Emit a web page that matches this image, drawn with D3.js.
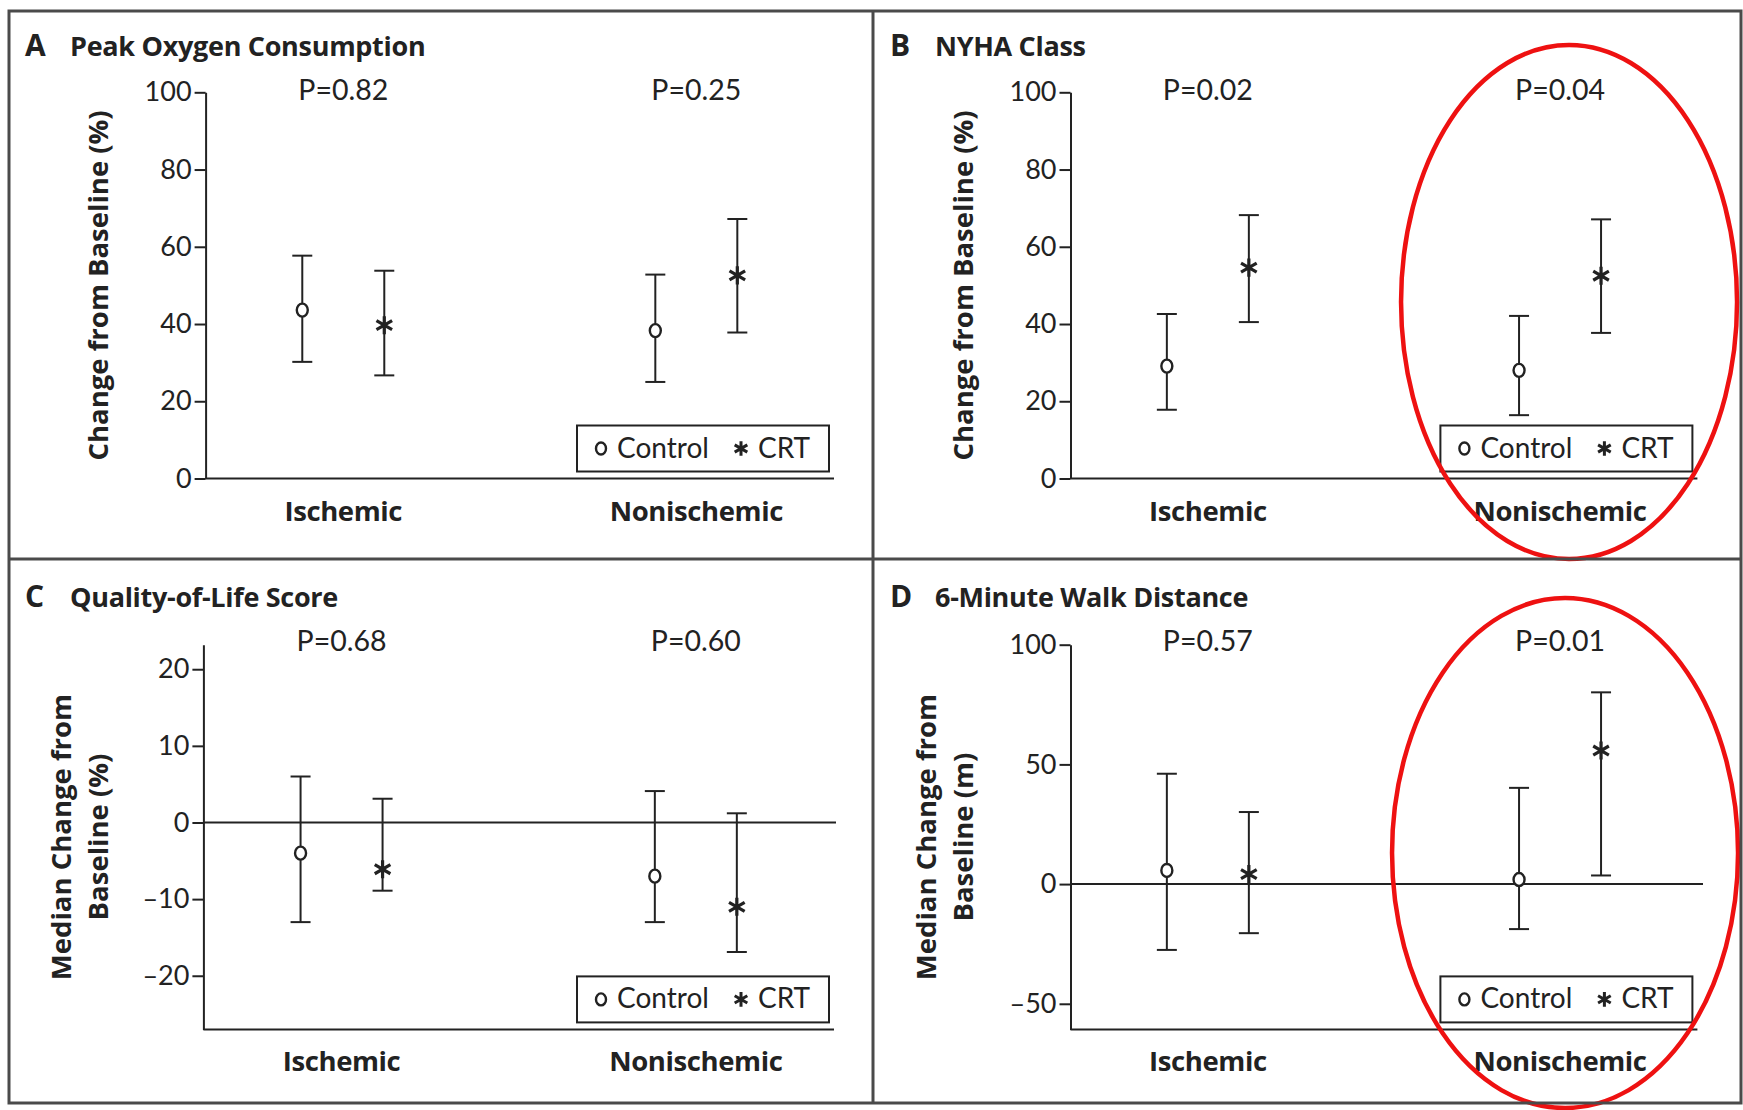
<!DOCTYPE html>
<html lang="en">
<head>
    <meta charset="UTF-8">
    <title>CRT outcomes by etiology</title>
    <script src="https://d3js.org/d3.v7.min.js"></script>
    <style>
        body { margin: 0; background: #fff; }
        svg { display: block; }
        .tick text { font-family: Lato, sans-serif; font-size: 27px; fill: #222; }
        .tick line, .domain { stroke: #222; stroke-width: 2; }
    </style>
</head>
<body>
<div id="chart"></div>
<script>
    // values: [category, group, median, low, high]
    const categories = ["Ischemic", "Nonischemic"];
    const groups = ["Control", "CRT"];

    const peakOxygen = [
        ["Ischemic", "Control", 43.6, 30.2, 57.7],
        ["Ischemic", "CRT", 39.7, 26.7, 53.8],
        ["Nonischemic", "Control", 38.3, 25.0, 52.8],
        ["Nonischemic", "CRT", 52.6, 37.8, 67.2]
    ];
    const nyhaClass = [
        ["Ischemic", "Control", 29.1, 17.8, 42.6],
        ["Ischemic", "CRT", 54.6, 40.5, 68.2],
        ["Nonischemic", "Control", 28.0, 16.4, 42.1],
        ["Nonischemic", "CRT", 52.5, 37.7, 67.1]
    ];
    const qualityOfLife = [
        ["Ischemic", "Control", -4.0, -13.0, 6.0],
        ["Ischemic", "CRT", -6.1, -8.9, 3.1],
        ["Nonischemic", "Control", -7.0, -13.0, 4.1],
        ["Nonischemic", "CRT", -11.0, -16.9, 1.2]
    ];
    const walkDistance = [
        ["Ischemic", "Control", 5.7, -27.5, 46.1],
        ["Ischemic", "CRT", 4.2, -20.5, 30.1],
        ["Nonischemic", "Control", 1.9, -18.8, 40.2],
        ["Nonischemic", "CRT", 55.8, 3.6, 80.1]
    ];

    const peakOxygenP = ["P=0.82", "P=0.25"];
    const nyhaP = ["P=0.02", "P=0.04"];
    const qualityP = ["P=0.68", "P=0.60"];
    const walkP = ["P=0.57", "P=0.01"];

    const percentTicks = [0, 20, 40, 60, 80, 100];
    const qualityTicks = [-20, -10, 0, 10, 20];
    const walkTicks = [-50, 0, 50, 100];

    // layout of the four panels (pixels)
    const panels = [
        { letter: "A", title: "Peak Oxygen Consumption", data: peakOxygen, p: peakOxygenP,
          ticks: percentTicks, domain: [0, 100], ylabel: ["Change from Baseline (%)"],
          ox: 0, oy: 0, x0: 205.6, x1: 834, yTop: 92.3, yBot: 478.5, zeroEnd: 834, ring: null },
        { letter: "B", title: "NYHA Class", data: nyhaClass, p: nyhaP,
          ticks: percentTicks, domain: [0, 100], ylabel: ["Change from Baseline (%)"],
          ox: 865, oy: 0, x0: 1070.5, x1: 1697.4, yTop: 92.3, yBot: 478.5, zeroEnd: 1697.4,
          ring: { dx: 9, cy: 302, rx: 168, ry: 257 } },
        { letter: "C", title: "Quality-of-Life Score", data: qualityOfLife, p: qualityP,
          ticks: qualityTicks, domain: [-27, 23.2], ylabel: ["Median Change from", "Baseline (%)"],
          ox: 0, oy: 551, x0: 203.4, x1: 834, yTop: 644.7, yBot: 1029.4, zeroEnd: 836, ring: null },
        { letter: "D", title: "6-Minute Walk Distance", data: walkDistance, p: walkP,
          ticks: walkTicks, domain: [-60.7, 100], ylabel: ["Median Change from", "Baseline (m)"],
          ox: 865, oy: 551, x0: 1070.5, x1: 1697.4, yTop: 644.7, yBot: 1029.4, zeroEnd: 1703,
          ring: { dx: 5, cy: 853, rx: 173, ry: 255 } }
    ];

    const ink = "#222";
    const svg = d3.select("#chart").append("svg")
        .attr("width", 1743)
        .attr("height", 1110);

    svg.append("rect").attr("width", 1743).attr("height", 1110).attr("fill", "#fff");

    const offset = d3.scalePoint().domain(groups).range([-41, 41]);

    panels.forEach(function(pn) {
        const g = svg.append("g");

        const x = d3.scalePoint()
            .domain(categories)
            .range([pn.x0, pn.x1])
            .padding(0.39);
        const y = d3.scaleLinear()
            .domain(pn.domain)
            .range([pn.yBot, pn.yTop]);

        // y axis
        g.append("g")
         .attr("transform", `translate(${pn.x0},0)`)
         .call(d3.axisLeft(y).tickValues(pn.ticks).tickSize(11).tickSizeOuter(0).tickPadding(3)
               .tickFormat(d => d < 0 ? "\u2013" + Math.abs(d) : d));

        // baseline at bottom + zero line
        g.append("line")
         .attr("x1", pn.x0).attr("x2", pn.x1)
         .attr("y1", pn.yBot).attr("y2", pn.yBot)
         .attr("stroke", ink).attr("stroke-width", 2);
        if (pn.domain[0] < 0) {
            g.append("line")
             .attr("x1", pn.x0).attr("x2", pn.zeroEnd)
             .attr("y1", y(0)).attr("y2", y(0))
             .attr("stroke", ink).attr("stroke-width", 2);
        }

        // titles
        g.append("text")
         .attr("x", pn.ox + 25).attr("y", pn.oy + 56)
         .attr("font-family", "Open Sans, sans-serif").attr("font-weight", 700)
         .attr("font-size", 30).attr("fill", ink)
         .text(pn.letter);
        g.append("text")
         .attr("x", pn.ox + 70).attr("y", pn.oy + 56)
         .attr("font-family", "Open Sans, sans-serif").attr("font-weight", 700)
         .attr("font-size", 27).attr("letter-spacing", -0.3).attr("fill", ink)
         .text(pn.title);

        // y label
        const yMid = (pn.yTop + pn.yBot) / 2;
        const lx = pn.ylabel.length === 1 ? [98] : [61, 98];
        pn.ylabel.forEach(function(line, i) {
            g.append("text")
             .attr("transform", `translate(${pn.ox + lx[i] + 10},${yMid}) rotate(-90)`)
             .attr("text-anchor", "middle")
             .attr("font-family", "Open Sans, sans-serif").attr("font-weight", 700)
             .attr("font-size", 27.5).attr("fill", ink)
             .text(line);
        });

        // category labels and P values
        categories.forEach(function(c, i) {
            g.append("text")
             .attr("x", x(c)).attr("y", pn.yBot + 42)
             .attr("text-anchor", "middle")
             .attr("font-family", "Open Sans, sans-serif").attr("font-weight", 700)
             .attr("font-size", 27.5).attr("letter-spacing", -0.4).attr("fill", ink)
             .text(c);
            g.append("text")
             .attr("x", x(c)).attr("y", pn.oy + 100)
             .attr("text-anchor", "middle")
             .attr("font-family", "Lato, sans-serif")
             .attr("font-size", 28.5).attr("fill", ink)
             .text(pn.p[i]);
        });

        // error bars
        const bars = g.selectAll(".bar").data(pn.data).enter().append("g");
        bars.append("line")
            .attr("x1", d => x(d[0]) + offset(d[1])).attr("x2", d => x(d[0]) + offset(d[1]))
            .attr("y1", d => y(d[3])).attr("y2", d => y(d[4]))
            .attr("stroke", ink).attr("stroke-width", 2);
        bars.append("line")
            .attr("x1", d => x(d[0]) + offset(d[1]) - 10).attr("x2", d => x(d[0]) + offset(d[1]) + 10)
            .attr("y1", d => y(d[3])).attr("y2", d => y(d[3]))
            .attr("stroke", ink).attr("stroke-width", 2);
        bars.append("line")
            .attr("x1", d => x(d[0]) + offset(d[1]) - 10).attr("x2", d => x(d[0]) + offset(d[1]) + 10)
            .attr("y1", d => y(d[4])).attr("y2", d => y(d[4]))
            .attr("stroke", ink).attr("stroke-width", 2);

        // markers
        bars.filter(d => d[1] === "Control").append("ellipse")
            .attr("cx", d => x(d[0]) + offset(d[1])).attr("cy", d => y(d[2]))
            .attr("rx", 5.5).attr("ry", 6.5)
            .attr("fill", "#fff").attr("stroke", ink).attr("stroke-width", 2.4);
        bars.filter(d => d[1] === "CRT").append("path")
            .attr("transform", d => `translate(${x(d[0]) + offset(d[1])},${y(d[2])})`)
            .attr("d", d3.symbol(d3.symbolAsterisk, 230))
            .attr("fill", "none").attr("stroke", ink).attr("stroke-width", 3.2);

        // legend
        const bx = pn.x1 - 257, by = pn.yBot - 53;
        const lg = g.append("g").attr("transform", `translate(${bx},${by})`);
        lg.append("rect").attr("width", 252).attr("height", 46)
          .attr("fill", "#fff").attr("stroke", ink).attr("stroke-width", 2);
        lg.append("ellipse").attr("cx", 24).attr("cy", 23).attr("rx", 5).attr("ry", 6)
          .attr("fill", "#fff").attr("stroke", ink).attr("stroke-width", 2.4);
        lg.append("text").attr("x", 40).attr("y", 32)
          .attr("font-family", "Lato, sans-serif").attr("font-size", 28).attr("fill", ink)
          .text(groups[0]);
        lg.append("path").attr("transform", "translate(164,23)")
          .attr("d", d3.symbol(d3.symbolAsterisk, 150))
          .attr("fill", "none").attr("stroke", ink).attr("stroke-width", 3);
        lg.append("text").attr("x", 181).attr("y", 32)
          .attr("font-family", "Lato, sans-serif").attr("font-size", 28).attr("fill", ink)
          .text(groups[1]);

        // red annotation ring around the nonischemic group
        if (pn.ring) {
            g.append("ellipse")
             .attr("cx", x("Nonischemic") + pn.ring.dx).attr("cy", pn.ring.cy)
             .attr("rx", pn.ring.rx).attr("ry", pn.ring.ry)
             .attr("fill", "none").attr("stroke", "#ee1111").attr("stroke-width", 4.5);
        }
    });

    // panel frame
    const frame = "#4a4a4a";
    svg.append("rect")
       .attr("x", 9).attr("y", 11).attr("width", 1732).attr("height", 1092)
       .attr("fill", "none").attr("stroke", frame).attr("stroke-width", 3);
    svg.append("line").attr("x1", 873).attr("x2", 873).attr("y1", 11).attr("y2", 1103)
       .attr("stroke", frame).attr("stroke-width", 3);
    svg.append("line").attr("x1", 9).attr("x2", 1741).attr("y1", 559).attr("y2", 559)
       .attr("stroke", frame).attr("stroke-width", 3);
</script>
</body>
</html>
